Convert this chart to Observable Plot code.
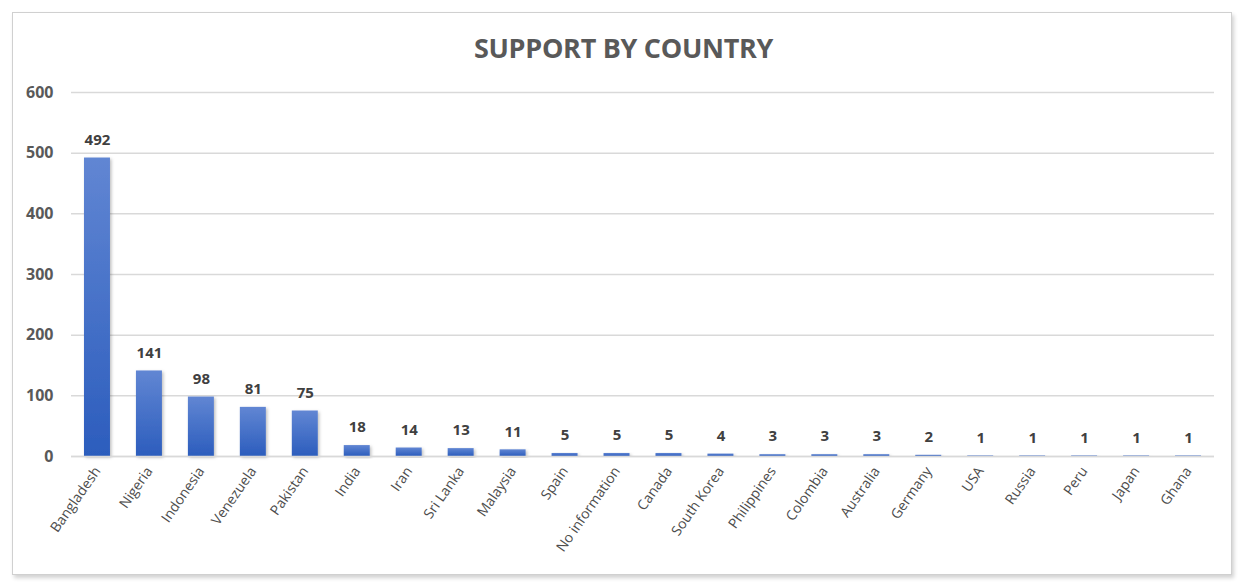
<!DOCTYPE html>
<html>
<head>
<meta charset="utf-8">
<script src="https://cdn.jsdelivr.net/npm/d3@7"></script>
<script src="https://cdn.jsdelivr.net/npm/@observablehq/plot@0.6"></script>
<style>
  html, body { margin: 0; padding: 0; background: #fff; }
  #wrap { position: relative; width: 1247px; height: 585px; overflow: hidden; background: #fff; }
  #frame { position: absolute; left: 12px; top: 12px; width: 1218px; height: 561px; border: 1px solid #d0d0d0; box-shadow: 2px 3px 4px rgba(0,0,0,0.18); background: #fff; }
  #title { position: absolute; left: 0; width: 1247px; top: 29px; text-align: center; font-family: "Open Sans", sans-serif; font-weight: bold; font-size: 27px; color: #595959; letter-spacing: -0.3px; }
  #chart { position: absolute; left: 0; top: 0; }
</style>
</head>
<body>
<div id="wrap">
  <div id="frame"></div>
  <div id="title">SUPPORT BY COUNTRY</div>
  <div id="chart"></div>
</div>
<script>
const countries = ["Bangladesh","Nigeria","Indonesia","Venezuela","Pakistan","India","Iran","Sri Lanka","Malaysia","Spain","No information","Canada","South Korea","Philippines","Colombia","Australia","Germany","USA","Russia","Peru","Japan","Ghana"];
const supportCounts = [492,141,98,81,75,18,14,13,11,5,5,5,4,3,3,3,2,1,1,1,1,1];
const yTicks = [0,100,200,300,400,500,600];

const data = countries.map((c, i) => ({country: c, value: supportCounts[i]}));

const chart = Plot.plot({
  width: 1247,
  height: 585,
  marginTop: 92,
  marginBottom: 129,
  marginLeft: 71,
  marginRight: 33,
  style: {fontFamily: "'Open Sans', sans-serif", background: "transparent", color: "#595959"},
  x: {domain: countries, paddingInner: 0.5, paddingOuter: 0.25, round: false, label: null},
  y: {domain: [0, 600], ticks: yTicks, label: null},
  marks: [
    Plot.gridY(yTicks, {stroke: "#d9d9d9", strokeOpacity: 1, strokeWidth: 1.5}),
    Plot.axisY({ticks: yTicks, tickSize: 0, tickPadding: 18, fontSize: 16, fontWeight: "bold", fill: "#595959", label: null}),
    Plot.barY(data, {x: "country", y: "value", fill: "url(#barGrad)", className: "bars"}),
    Plot.text(data, {x: "country", y: "value", text: d => String(d.value), dy: -18, fontSize: 15, fontWeight: "bold", fill: "#404040"}),
    Plot.axisX({tickSize: 0, tickPadding: 12, tickRotate: -55, fontSize: 14, fill: "#4d4d4d", label: null}),
    Plot.ruleY([0], {stroke: "#d9d9d9", strokeWidth: 1.5})
  ]
});

const svg = d3.select(chart);
const defs = svg.insert("defs", ":first-child");
const g = defs.append("linearGradient").attr("id", "barGrad").attr("x1", 0).attr("y1", 0).attr("x2", 0).attr("y2", 1);
g.append("stop").attr("offset", "0%").attr("stop-color", "#6186d3");
g.append("stop").attr("offset", "100%").attr("stop-color", "#2c5dbd");
const f = defs.append("filter").attr("id", "barShadow").attr("x", "-30%").attr("y", "-10%").attr("width", "160%").attr("height", "130%");
f.append("feDropShadow").attr("dx", 1.5).attr("dy", 1.5).attr("stdDeviation", 1.5).attr("flood-color", "#000").attr("flood-opacity", 0.25);
svg.selectAll("g.bars rect").attr("filter", "url(#barShadow)");

document.getElementById("chart").appendChild(chart);
</script>
</body>
</html>
